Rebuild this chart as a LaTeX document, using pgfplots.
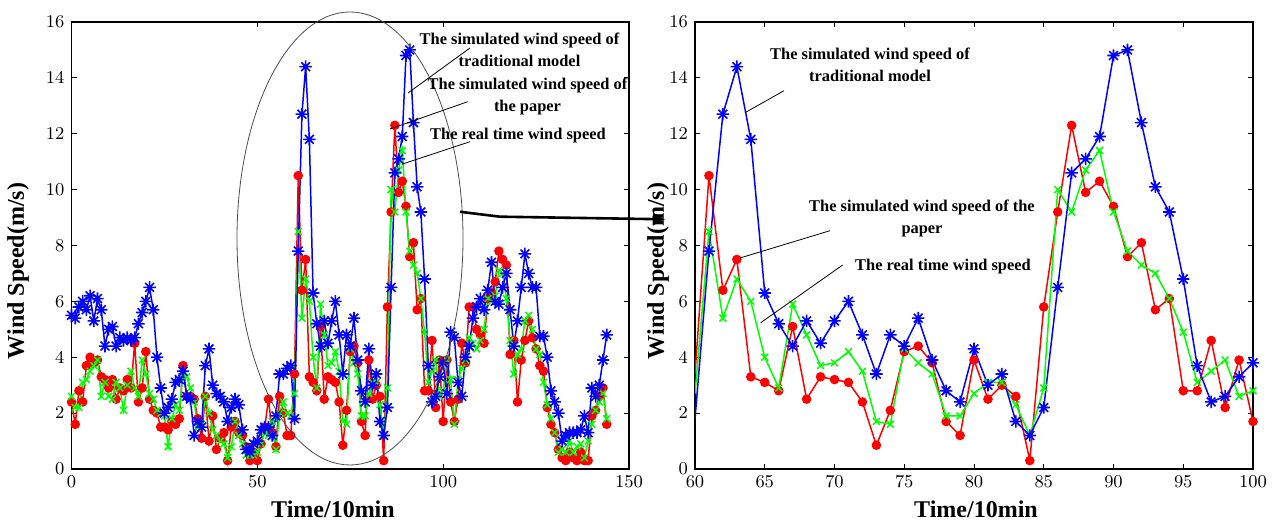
\documentclass[border=0pt]{standalone}
\usepackage{fontspec}
\setmainfont{Liberation Serif}
\usepackage{pgfplots}
\pgfplotsset{compat=1.18}
\usepackage{pgfplotstable}
\usetikzlibrary{arrows.meta}

\definecolor{mred}{rgb}{1,0,0}
\definecolor{mgreen}{rgb}{0,1,0}
\definecolor{mblue}{rgb}{0,0,1}

\pgfdeclareplotmark{mstar}{%
  \pgfpathmoveto{\pgfqpoint{-\pgfplotmarksize}{0pt}}\pgfpathlineto{\pgfqpoint{\pgfplotmarksize}{0pt}}%
  \pgfpathmoveto{\pgfqpoint{0pt}{-\pgfplotmarksize}}\pgfpathlineto{\pgfqpoint{0pt}{\pgfplotmarksize}}%
  \pgfpathmoveto{\pgfqpoint{-0.707\pgfplotmarksize}{-0.707\pgfplotmarksize}}\pgfpathlineto{\pgfqpoint{0.707\pgfplotmarksize}{0.707\pgfplotmarksize}}%
  \pgfpathmoveto{\pgfqpoint{-0.707\pgfplotmarksize}{0.707\pgfplotmarksize}}\pgfpathlineto{\pgfqpoint{0.707\pgfplotmarksize}{-0.707\pgfplotmarksize}}%
  \pgfusepathqstroke}

\pgfplotstableread{
x r g b
0 2.4 2.6 5.5
1 1.6 2.2 5.4
2 2.8 2.2 5.8
3 2.4 3.1 6.0
4 3.7 3.2 5.7
5 4.0 3.5 6.2
6 3.8 3.7 5.3
7 3.9 3.9 6.1
8 3.3 2.6 5.7
9 3.2 3.1 4.4
10 2.9 2.6 5.0
11 3.2 2.5 5.1
12 2.5 3.1 4.4
13 2.9 2.9 4.7
14 2.8 2.1 4.6
15 3.2 3.0 4.7
16 2.9 3.5 4.6
17 4.5 2.9 4.7
18 2.4 2.6 5.2
19 2.9 3.9 5.6
20 4.2 3.4 6.0
21 2.5 2.7 6.5
22 2.1 2.5 5.7
23 2.0 2.1 4.0
24 1.5 2.0 2.9
25 1.5 1.9 2.0
26 1.4 0.8 2.2
27 1.7 1.8 2.5
28 1.6 2.3 3.1
29 1.8 2.1 3.2
30 3.7 3.4 3.5
31 2.6 3.3 2.6
32 2.6 2.9 2.5
33 2.5 2.4 1.2
34 1.8 1.5 1.7
35 1.1 1.6 1.5
36 2.6 2.6 3.7
37 1.0 2.0 4.3
38 1.9 1.4 3.0
39 0.7 1.2 2.7
40 1.1 1.0 2.6
41 1.3 0.9 2.4
42 0.3 0.4 1.7
43 1.5 0.8 2.2
44 1.7 1.7 2.5
45 1.3 1.2 2.3
46 1.2 0.9 1.4
47 0.8 0.5 0.7
48 0.3 0.5 0.6
49 0.6 0.5 0.9
50 0.3 0.6 1.0
51 0.9 0.9 1.4
52 1.5 1.3 1.5
53 2.5 1.2 1.5
54 1.3 1.7 1.2
55 0.8 0.7 1.9
56 2.6 2.0 3.4
57 2.0 2.4 3.4
58 1.2 2.0 3.6
59 1.2 1.9 3.7
60 3.4 2.7 1.8
61 10.5 8.5 7.8
62 6.4 5.4 12.7
63 7.5 6.8 14.4
64 3.3 6.0 11.8
65 3.1 4.0 6.3
66 2.8 2.9 5.2
67 5.1 5.9 4.4
68 2.5 4.8 5.3
69 3.3 3.7 4.5
70 3.2 3.8 5.3
71 3.1 4.2 6.0
72 2.4 3.5 4.8
73 0.85 1.7 3.4
74 2.1 1.6 4.8
75 4.2 4.3 4.4
76 4.4 3.8 5.4
77 3.8 3.4 3.9
78 1.7 1.9 2.8
79 1.2 1.9 2.4
80 3.9 2.7 4.3
81 2.5 3.1 3.0
82 3.0 3.1 3.4
83 2.6 2.3 1.7
84 0.3 1.2 1.2
85 5.8 2.9 2.2
86 9.2 10.0 6.5
87 12.3 9.2 10.6
88 9.9 10.7 11.1
89 10.3 11.4 11.9
90 9.4 9.2 14.8
91 7.6 7.8 15.0
92 8.1 7.3 12.4
93 5.7 7.0 10.1
94 6.1 6.1 9.2
95 2.8 4.9 6.8
96 2.8 3.1 3.7
97 4.6 3.5 2.4
98 2.2 3.9 2.6
99 3.9 2.6 3.3
100 1.7 2.8 3.8
101 3.9 3.9 2.7
102 2.4 3.2 4.9
103 1.7 1.6 4.7
104 2.5 3.2 3.1
105 4.5 3.6 2.6
106 3.8 3.9 4.0
107 5.8 4.7 4.4
108 5.8 4.5 5.4
109 5.0 4.3 5.8
110 4.8 4.6 6.1
111 4.5 5.0 5.7
112 6.1 6.1 6.4
113 6.3 6.0 7.4
114 6.7 6.2 6.0
115 7.8 7.1 5.9
116 7.5 7.0 6.5
117 7.3 6.1 7.0
118 4.1 4.6 5.7
119 4.6 3.4 4.4
120 2.4 4.1 5.3
121 3.9 4.3 6.5
122 4.6 5.3 7.7
123 5.3 5.5 7.0
124 4.7 5.0 6.5
125 4.3 4.3 6.5
126 3.7 4.1 4.75
127 3.5 3.1 4.75
128 2.2 2.3 4.0
129 1.6 1.8 2.8
130 1.3 1.3 2.4
131 0.7 0.6 2.0
132 0.4 0.7 1.0
133 0.3 0.6 1.2
134 0.6 1.0 1.3
135 0.4 0.6 1.3
136 0.3 0.8 1.3
137 0.6 0.9 1.4
138 0.3 0.4 1.9
139 0.3 1.0 1.3
140 1.9 1.6 2.9
141 2.1 2.1 2.6
142 2.6 2.4 3.0
143 2.9 2.7 3.9
144 1.6 1.8 4.8
}\windtab

\pgfplotsset{
  wind/.style={
    scale only axis, height=223.5pt,
    ymin=0, ymax=16, ytick={0,2,...,16},
    tick align=inside, major tick length=2.5pt,
    axis line style={line width=0.7pt},
    every tick/.style={black, line width=0.5pt},
    tick label style={font=\fontsize{9.2}{10}\selectfont},
    label style={font=\fontsize{12}{14}\selectfont\bfseries},
    xlabel={Time/10min}, ylabel={Wind Speed(m/s)},
  },
  rstyle/.style={color=mred, line width=0.75pt, mark=*, mark size=2pt, mark options={solid, fill=mred}},
  gstyle/.style={color=mgreen, line width=0.75pt, mark=x, mark size=2.4pt, mark options={solid}},
  bstyle/.style={color=mblue, line width=0.75pt, mark=mstar, mark size=3.1pt, mark options={solid, line width=0.8pt}},
}

\begin{document}
\begin{tikzpicture}[x=1pt,y=1pt]
\useasboundingbox (0,0) rectangle (642.5,261);

\begin{axis}[wind, at={(35.75pt,26.5pt)}, anchor=south west, width=278.75pt,
  xmin=0, xmax=150, xtick={0,50,100,150},
  xlabel style={at={(axis description cs:0.469,-0.09)}, anchor=center},
  ylabel style={at={(axis description cs:-0.096,0.443)}, anchor=center},
]
\addplot[rstyle] table[x=x, y=r] {\windtab};
\addplot[gstyle] table[x=x, y=g] {\windtab};
\addplot[bstyle] table[x=x, y=b] {\windtab};
\end{axis}

\begin{axis}[wind, at={(347.5pt,26.5pt)}, anchor=south west, width=279pt,
  xmin=60, xmax=100, xtick={60,65,...,100},
  xlabel style={at={(axis description cs:0.5036,-0.09)}, anchor=center},
  ylabel style={at={(axis description cs:-0.066,0.443)}, anchor=center},
]
\addplot[rstyle, restrict x to domain=60:100, mark phase=2, mark repeat=1] table[x=x, y=r] {\windtab};
\addplot[gstyle, restrict x to domain=60:100, mark phase=2, mark repeat=1] table[x=x, y=g] {\windtab};
\addplot[bstyle, restrict x to domain=60:100, mark phase=2, mark repeat=1] table[x=x, y=b] {\windtab};
\end{axis}

% annotations
\draw[color=black!70, line width=0.4pt] (175,141.75) ellipse [x radius=56.5, y radius=113.25];
\draw[line width=1.3pt, -{Triangle[length=6pt,width=6pt]}] (230,155.1) -- (250,152.65) -- (332.5,151.35);

\begin{scope}[every node/.style={font=\fontsize{8.2}{11}\selectfont\bfseries, align=center, inner sep=0pt}]
\node at (259.75,236) {The simulated wind speed of\\traditional model};
\node at (263.75,212.6) {The simulated wind speed of\\the paper};
\node at (259,193) {The real time wind speed};
\node at (435,228.75) {The simulated wind speed of\\traditional model};
\node at (461,152) {The simulated wind speed of the\\paper};
\node at (471.5,127.5) {The real time wind speed};
\end{scope}
\draw[line width=0.4pt] (235,237) -- (204,214.5);
\draw[line width=0.4pt] (233.85,210.15) -- (195,196.5);
\draw[line width=0.4pt] (235,190.15) -- (200.85,178.85);
\draw[line width=0.4pt] (392,215.65) -- (372.5,204.65);
\draw[line width=0.4pt] (415,145.65) -- (370,132);
\draw[line width=0.4pt] (421.35,128.5) -- (380.35,99.65);
\end{tikzpicture}
\end{document}
